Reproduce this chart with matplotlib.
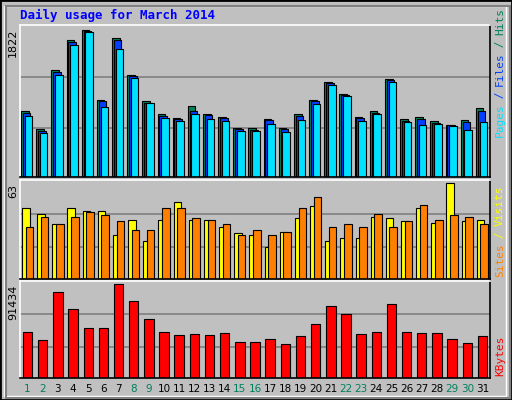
import numpy as np
import matplotlib
matplotlib.use("Agg")
import matplotlib.pyplot as plt
from matplotlib.patches import Rectangle

days = list(range(1, 32))
weekend = [1, 2, 8, 9, 15, 16, 22, 23, 29, 30]

# (top-panel pixel heights converted to values)
hits = [776, 565, 1257, 1615, 1726, 902, 1628, 1199, 896, 742, 693, 833, 742, 709,
        573, 573, 684, 573, 746, 907, 1117, 981, 709, 779, 1154, 684, 709, 660, 610, 672, 808]
files = [751, 540, 1232, 1591, 1714, 890, 1615, 1187, 872, 721, 676, 771, 734, 692,
         561, 552, 672, 561, 721, 894, 1101, 961, 692, 754, 1138, 664, 684, 635, 606, 647, 779]
pages = [713, 515, 1195, 1554, 1702, 820, 1500, 1166, 872, 697, 659, 746, 684, 659,
         536, 536, 622, 523, 672, 857, 1080, 948, 659, 738, 1117, 647, 610, 622, 598, 552, 651]
visits = [47, 43, 36, 47, 45, 45, 29, 39, 25, 39, 51, 39, 39, 34, 30, 29, 21, 31, 40,
          48, 25, 27, 27, 41, 40, 38, 47, 37, 63, 38, 39]
sites = [34, 41, 36, 41, 44, 42, 38, 32, 32, 47, 47, 40, 39, 36, 29, 32, 29, 31, 47,
         54, 34, 36, 34, 43, 34, 38, 49, 39, 42, 41, 36]
kbytes = [45217, 37179, 83894, 66976, 49064, 49064, 91434, 74679, 57771, 45217, 42202,
          43207, 42202, 44212, 35170, 35170, 38184, 33160, 41197, 53125, 70033, 62029,
          43207, 45217, 72043, 45217, 44212, 44212, 38184, 34165, 41197]

W, H = 512, 400
fig = plt.figure(figsize=(W / 100, H / 100), dpi=100)
fig.patch.set_facecolor("#C0C0C0")

# outer frame with bevel
fig.add_artist(Rectangle((0, 0), 1, 1, transform=fig.transFigure, fill=False,
                         edgecolor="black", linewidth=2))
fig.add_artist(Rectangle((4 / W, 4 / H), 1 - 10 / W, 1 - 10 / H, transform=fig.transFigure,
                         fill=False, edgecolor="white", linewidth=1))
fig.add_artist(Rectangle((6 / W, 2 / H), 1 - 8 / W, 1 - 8 / H, transform=fig.transFigure,
                         fill=False, edgecolor="#808080", linewidth=1.5))

mono = "DejaVu Sans Mono"
fig.text(20 / W, 1 - 15 / H, "Daily usage for March 2014", color="#0000FF",
         family=mono, weight="bold", fontsize=9, va="center")

x = np.array(days)
left, right = 20, 490


def panel(top, bottom, vmax, label):
    ax = fig.add_axes([left / W, 1 - bottom / H, (right - left) / W, (bottom - top) / H])
    ax.set_facecolor("#C0C0C0")
    ax.set_xlim(0.5, 31.5)
    ax.set_ylim(0, vmax * 1.035)
    for f in (0.335, 0.68):
        ax.axhline(vmax * f, color="#808080", linewidth=1.2, zorder=0)
    ax.set_xticks([])
    ax.set_yticks([])
    for s in ax.spines.values():
        s.set_linewidth(1.2)
    ax.spines["left"].set_color("white")
    ax.spines["top"].set_color("white")
    fig.text(8 / W, 1 - (top + 4) / H, label, rotation=90, va="top", ha="left",
             fontsize=8, family="DejaVu Sans")
    return ax


ax1 = panel(25, 177, max(hits), "1822")
bw = 0.5
ax1.bar(x - 0.18, hits, width=bw, color="#00805C", edgecolor="black", linewidth=0.8)
ax1.bar(x - 0.06, files, width=bw, color="#0040FF", edgecolor="black", linewidth=0.8)
ax1.bar(x + 0.06, pages, width=bw, color="#00E0FF", edgecolor="black", linewidth=0.8)

ax2 = panel(180, 279, max(visits), "63")
ax2.bar(x - 0.12, visits, width=0.5, color="#FFFF00", edgecolor="black", linewidth=0.8)
ax2.bar(x + 0.12, sites, width=0.5, color="#FF8000", edgecolor="black", linewidth=0.8)

ax3 = panel(281, 378, max(kbytes), "91434")
ax3.bar(x, kbytes, width=0.62, color="#FF0000", edgecolor="black", linewidth=0.8)

# right-side legends, reading bottom to top
def side_label(parts, ybottom):
    y = ybottom
    for txt, col in parts:
        t = fig.text(500 / W, 1 - y / H, txt, rotation=90, color=col, family=mono,
                     fontsize=8, va="bottom", ha="center")
        y -= len(txt) * 6.4


side_label([("Pages", "#00E0FF"), (" / ", "#0040FF"), ("Files", "#0040FF"),
            (" / ", "#00805C"), ("Hits", "#00805C")], 137)
side_label([("Sites", "#FF8000"), (" / ", "#FFFF00"), ("Visits", "#FFFF00")], 277)
side_label([("KBytes", "#FF0000")], 376)

for d in days:
    col = "#00805C" if d in weekend else "black"
    xf = (left + (d - 0.5) / 31 * (right - left)) / W
    fig.text(xf, 1 - 389 / H, str(d), color=col, ha="center", va="center",
             fontsize=7.5, family="DejaVu Sans")

fig.savefig("out.png", dpi=100, facecolor=fig.get_facecolor())
